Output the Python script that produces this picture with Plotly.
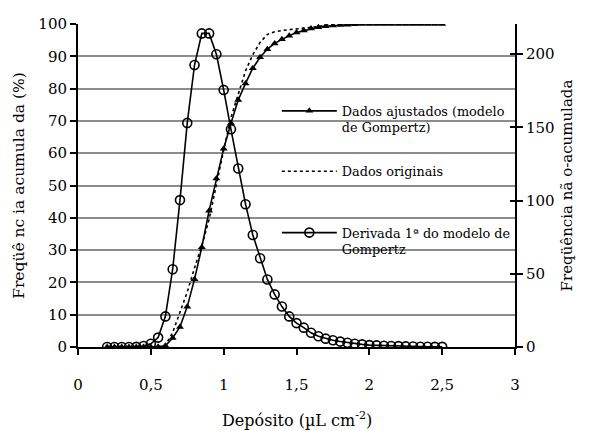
import plotly.graph_objects as go

# Depósito (µL cm-2), step 0.05 from 0.2 to 2.5
deposito = [round(0.2 + 0.05 * i, 2) for i in range(47)]

# Gompertz fitted cumulative frequency (%)
gompertz = [0, 0, 0, 0, 0, 0, 0, 0.05, 0.4, 2.8, 6.2, 12.5, 21.0, 30.9, 42.2, 52.2,
            61.4, 69.3, 76.5, 81.6, 86.3, 89.7, 92.2, 94.0, 95.3, 96.4, 97.4, 98.0,
            98.6, 99.0, 99.3, 99.5, 99.7, 99.8, 99.9, 100, 100, 100, 100, 100, 100,
            100, 100, 100, 100, 100, 100]

# Original data (cumulative %)
orig_x = [0.55, 0.60, 0.65, 0.70, 0.75, 0.80, 0.85, 0.90, 0.95, 1.00, 1.05, 1.10,
          1.15, 1.20, 1.25, 1.30, 1.35, 1.40, 1.45, 1.50, 1.55, 1.60, 1.65, 1.70,
          1.75, 1.80, 1.90, 2.00, 2.10, 2.20, 2.30, 2.40, 2.50]
orig_y = [0, 0.5, 4.5, 10.5, 17.0, 24.5, 31.5, 39.5, 50.5, 61.0, 71.0, 78.5,
          85.5, 90.5, 94.3, 96.8, 97.6, 98.0, 98.2, 98.4, 98.6, 98.9, 99.2, 99.6,
          100, 100, 100, 100, 100, 100, 100, 100, 100]

# First derivative of Gompertz model (non-cumulative frequency)
derivada = [0, 0, 0, 0, 0.1, 0.7, 2.2, 6.4, 20.9, 53.1, 100.3, 153.0, 192.5, 214.1,
            214.1, 199.8, 175.5, 148.6, 121.9, 97.5, 76.5, 60.6, 46.1, 35.9, 27.6,
            20.9, 16.3, 13.2, 9.7, 7.3, 5.7, 4.6, 3.7, 2.9, 2.2, 1.8, 1.3, 1.1, 0.9,
            0.7, 0.6, 0.4, 0.3, 0.2, 0.2, 0.1, 0.1]

left_ticks = list(range(0, 101, 10))
right_ticks = [0, 50, 100, 150, 200]
x_ticks = [0, 0.5, 1, 1.5, 2, 2.5, 3]

FONT = "DejaVu Serif"

fig = go.Figure()

fig.add_trace(go.Scatter(
    x=orig_x, y=orig_y, mode="lines", name="Dados originais",
    line=dict(color="black", width=1.6, dash="dot"), legend="legend2"))

fig.add_trace(go.Scatter(
    x=deposito, y=gompertz, mode="lines+markers",
    name="Dados ajustados (modelo<br>de Gompertz)",
    line=dict(color="black", width=1.6),
    marker=dict(symbol="triangle-up", size=7, color="black"), legend="legend"))

fig.add_trace(go.Scatter(
    x=deposito, y=derivada, mode="lines+markers", yaxis="y2",
    name="Derivada 1ª do modelo de<br>Gompertz",
    line=dict(color="black", width=1.6),
    marker=dict(symbol="circle-open", size=9, color="black", line=dict(width=1.6)),
    legend="legend3"))

legend_common = dict(bgcolor="rgba(0,0,0,0)", borderwidth=0,
                     font=dict(family=FONT, size=12.8, color="black"),
                     xanchor="left", yanchor="top", valign="top", itemwidth=55)

fig.update_layout(
    width=591, height=431,
    margin=dict(l=70, r=84, t=16, b=92, autoexpand=False),
    paper_bgcolor="white", plot_bgcolor="white",
    separators=",.",
    font=dict(family=FONT, size=15, color="black"),
    xaxis=dict(range=[0, 3], tickvals=x_ticks, showgrid=False, zeroline=False,
               showline=True, linecolor="black", linewidth=2, automargin=False,
               ticks="outside", ticklen=6, tickwidth=2, tickcolor="black",
               ticklabelstandoff=17),
    yaxis=dict(range=[0, 100], tickvals=left_ticks, showgrid=True,
               gridcolor="#8c8c8c", gridwidth=2, zeroline=False, automargin=False,
               showline=True, linecolor="black", linewidth=2,
               ticks="outside", ticklen=6, tickwidth=2, tickcolor="black",
               title=dict(text="Freqüê nc ia acumula da (%)", standoff=10,
                          font=dict(size=15.5, family=FONT))),
    yaxis2=dict(range=[0, 220.5], tickvals=right_ticks, overlaying="y", side="right",
                showgrid=False, zeroline=False, automargin=False,
                showline=True, linecolor="black", linewidth=2,
                ticks="outside", ticklen=6, tickwidth=2, tickcolor="black",
                title=dict(text="Freqüência nã o-acumulada", standoff=8,
                           font=dict(size=15, family=FONT))),
    yaxis3=dict(range=[0, 220.5], tickvals=right_ticks, overlaying="y", side="right",
                showgrid=False, zeroline=False, showline=False, showticklabels=False,
                automargin=False,
                ticks="inside", ticklen=5, tickwidth=2, tickcolor="black"),
    legend=dict(x=0.455, y=0.777, **legend_common),
    legend2=dict(x=0.455, y=0.59, **legend_common),
    legend3=dict(x=0.455, y=0.40, **legend_common),
    annotations=[dict(text="Depósito (µL cm<sup>-2</sup>)", xref="paper", yref="paper",
                      x=0.5, y=-0.226, xanchor="center", yanchor="middle",
                      showarrow=False, font=dict(family=FONT, size=16, color="black"))],
    showlegend=True,
)

# invisible helper trace so the crossing tick axis is drawn
fig.add_trace(go.Scatter(x=[None], y=[None], yaxis="y3", showlegend=False,
                         hoverinfo="skip"))

fig.write_html("out.html")
